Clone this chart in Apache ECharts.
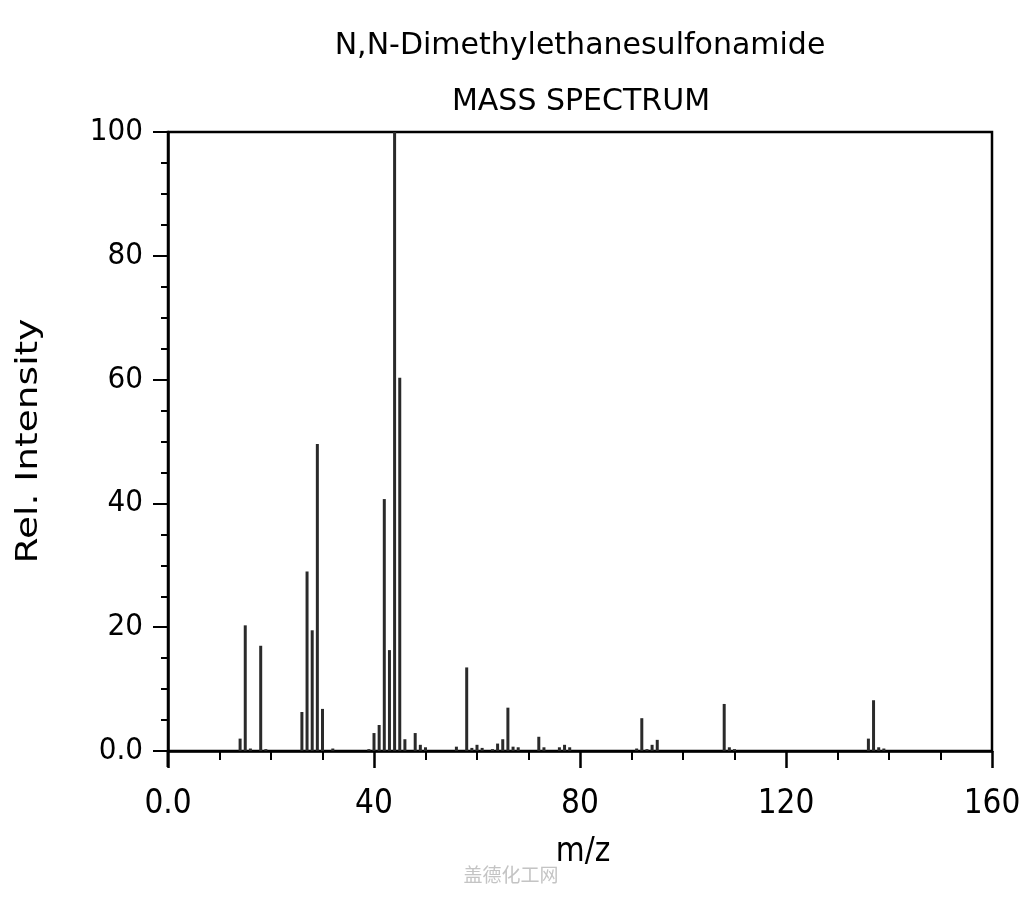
<!DOCTYPE html>
<html>
<head>
<meta charset="utf-8">
<script src="https://cdn.jsdelivr.net/npm/echarts@6/dist/echarts.min.js"></script>
<style>
html,body{margin:0;padding:0;background:#fff;}
#chart{width:1024px;height:900px;}
</style>
</head>
<body>
<div id="chart"></div>
<script>
// Data
var titleLine1 = 'N,N-Dimethylethanesulfonamide';
var titleLine2 = 'MASS SPECTRUM';
var xAxisName = 'm/z';
var yAxisName = 'Rel. Intensity';
var mzValues = [14, 15, 16, 18, 19, 26, 27, 28, 29, 30, 32, 39, 40, 41, 42, 43, 44, 45, 46, 48, 49, 50,
                56, 58, 59, 60, 61, 63, 64, 65, 66, 67, 68, 72, 73, 76, 77, 78,
                91, 92, 93, 94, 95, 108, 109, 110, 136, 137, 138, 139];
var intensities = [2.0, 20.3, 0.4, 17.0, 0.3, 6.3, 29.0, 19.5, 49.6, 6.8, 0.4, 0.3, 2.9, 4.2, 40.7, 16.3, 100, 60.3, 1.9, 2.9, 1.0, 0.6,
                   0.7, 13.5, 0.5, 1.0, 0.5, 0.3, 1.2, 1.9, 7.0, 0.7, 0.6, 2.3, 0.6, 0.6, 1.0, 0.6,
                   0.4, 5.3, 0.3, 1.0, 1.8, 7.6, 0.6, 0.3, 2.0, 8.2, 0.6, 0.4];
var xTicks = {min: 0, max: 160, interval: 40};
var yTicks = {min: 0, max: 100, interval: 20};
var watermark = '盖德化工网';

var seriesData = mzValues.map(function (m, i) { return [m, intensities[i]]; });
var condFont = '"DejaVu Sans Condensed", "DejaVu Sans", sans-serif';
var normFont = '"DejaVu Sans", sans-serif';
function fmt(v) { return v === 0 ? '0.0' : String(v); }

var chart = echarts.init(document.getElementById('chart'));
chart.setOption({
  animation: false,
  backgroundColor: '#ffffff',
  grid: {left: 168, right: 32, top: 132, bottom: 149, show: true, borderColor: '#000', borderWidth: 2.5, backgroundColor: 'transparent'},
  xAxis: {
    type: 'value', min: xTicks.min, max: xTicks.max, interval: xTicks.interval,
    axisLine: {show: true, lineStyle: {color: '#000', width: 2.5}},
    axisTick: {show: true, inside: false, length: 17, lineStyle: {color: '#000', width: 2.5}},
    minorTick: {show: true, splitNumber: 4, length: 9, lineStyle: {color: '#000', width: 2}},
    axisLabel: {color: '#000', fontSize: 33, fontFamily: condFont, margin: 37, formatter: fmt},
    splitLine: {show: false}
  },
  yAxis: {
    type: 'value', min: yTicks.min, max: yTicks.max, interval: yTicks.interval,
    axisLine: {show: true, lineStyle: {color: '#000', width: 2.5}},
    axisTick: {show: true, length: 15, lineStyle: {color: '#000', width: 2}},
    minorTick: {show: true, splitNumber: 4, length: 7, lineStyle: {color: '#000', width: 2}},
    axisLabel: {color: '#000', fontSize: 31, fontFamily: condFont, margin: 25, formatter: fmt},
    splitLine: {show: false}
  },
  series: [{
    type: 'bar',
    data: seriesData,
    barWidth: 3,
    itemStyle: {color: '#2a2a2a'},
    silent: true
  }],
  graphic: [
    {type: 'text', x: 580, y: 46, style: {text: titleLine1, font: '30px ' + normFont, fill: '#000', textAlign: 'center', textVerticalAlign: 'middle'}},
    {type: 'text', x: 581, y: 102, style: {text: titleLine2, font: '30px ' + normFont, fill: '#000', textAlign: 'center', textVerticalAlign: 'middle'}},
    {type: 'text', x: 583, y: 852, style: {text: xAxisName, font: '33px ' + condFont, fill: '#000', textAlign: 'center', textVerticalAlign: 'middle'}},
    {type: 'text', x: 29, y: 441, rotation: Math.PI / 2, scaleX: 1.21, style: {text: yAxisName, font: '31px ' + normFont, fill: '#000', textAlign: 'center', textVerticalAlign: 'middle'}},
    {type: 'rect', shape: {x: 166.5, y: 751, width: 2.5, height: 16}, style: {fill: '#000'}},
    {type: 'text', x: 511, y: 875, style: {text: watermark, font: '19px "Noto Sans CJK SC", serif', fill: '#c4c4c4', textAlign: 'center', textVerticalAlign: 'middle'}}
  ]
});
</script>
</body>
</html>
